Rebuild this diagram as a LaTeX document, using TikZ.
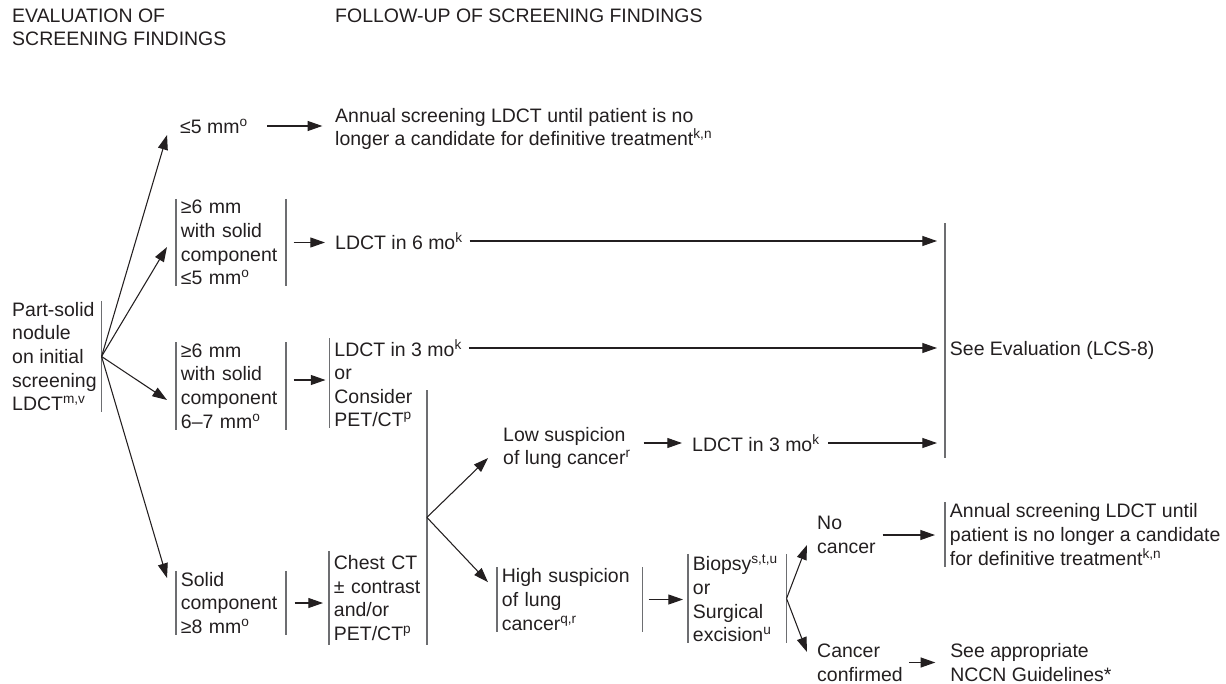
\documentclass[tikz,border=0pt]{standalone}
\usepackage{fontspec}
\setmainfont{Liberation Sans}
\usetikzlibrary{arrows.meta,calc}

\begin{document}
\begin{tikzpicture}[x=0.75pt,y=-0.75pt,font=\fontsize{14.6}{17.7}\selectfont,
  lcstext/.style={anchor=west,align=left,inner xsep=3.5pt,inner ysep=0.8pt,text=lcsink},
  lcsblock/.style={lcstext,text width=75pt},
  lcsrule/.style={draw=lcsgray,line width=1pt},
  lcsarr/.style={draw=lcsink,line width=0.8pt,-{Triangle[length=11pt,width=7.5pt]}}]
  \definecolor{lcsink}{HTML}{231F20}
  \definecolor{lcsgray}{HTML}{6D6E71}
  \path[use as bounding box] (0,0) rectangle (1226,684);

  % column heads
  \node[lcstext] (hdeval) at (7.3,27.5) {EVALUATION OF\\SCREENING FINDINGS};
  \node[lcstext] (hdfollow) at (330.3,16) {FOLLOW-UP OF SCREENING FINDINGS};

  % first split: size of the nodule and of its solid part
  \node[lcstext] (partsolid) at (7.3,356.5) {Part-solid\\nodule\\on initial\\screening\\LDCT\textsuperscript{m,v}};
  \node[lcstext] (smallnod) at (175.3,126) {≤5 mm\textsuperscript{o}};
  \node[lcsblock] (solidlow) at (176,242.5) {≥6 mm\\with solid\\component\\≤5 mm\textsuperscript{o}};
  \node[lcsblock] (solidmid) at (176,386) {≥6 mm\\with solid\\component\\6–7 mm\textsuperscript{o}};
  \node[lcsblock] (solidhigh) at (176,603) {Solid\\component\\≥8 mm\textsuperscript{o}};

  % follow-up column
  \node[lcstext] (annualtop) at (330.3,129) {Annual screening LDCT until patient is no\\longer a candidate for definitive treatment\textsuperscript{k,n}};
  \node[lcstext] (sixmo) at (330.3,241) {LDCT in 6 mo\textsuperscript{k}};
  \node[lcstext] (threemo) at (329.5,348) {LDCT in 3 mo\textsuperscript{k}};
  \node[lcstext] (considerpet) at (329.5,398) {or\\Consider\\PET/CT\textsuperscript{p}};
  \node[lcstext,text width=66pt,inner ysep=3pt] (chestct) at (329,598) {Chest CT\\± contrast\\and/or\\PET/CT\textsuperscript{p}};
  \node[lcstext] (seeeval) at (945,350) {See Evaluation (LCS-8)};

  % after chest CT and/or PET/CT
  \node[lcstext] (lowsusp) at (498.3,448) {Low suspicion\\of lung cancer\textsuperscript{r}};
  \node[lcstext] (lowct) at (687.3,443) {LDCT in 3 mo\textsuperscript{k}};
  \node[lcstext,text width=101.75pt] (highsusp) at (497,599.5) {High suspicion\\of lung\\cancer\textsuperscript{q,r}};
  \node[lcstext,text width=66.5pt] (biopsy) at (688,598.5) {Biopsy\textsuperscript{s,t,u}\\or\\Surgical\\excision\textsuperscript{u}};
  \node[lcstext] (nocancer) at (812.3,535) {No\\cancer};
  \node[lcstext] (annualbot) at (945,534.5) {Annual screening LDCT until\\patient is no longer a candidate\\for definitive treatment\textsuperscript{k,n}};
  \node[lcstext] (confirmed) at (812.3,662.5) {Cancer\\confirmed};
  \node[lcstext] (nccn) at (945.3,662.5) {See appropriate\\NCCN Guidelines*};

  % bracket rules
  \foreach \n in {solidlow,solidmid,solidhigh,highsusp,biopsy}{
    \draw[lcsrule] (\n.north west) -- (\n.south west);
    \draw[lcsrule] (\n.north east) -- (\n.south east);
  }
  \draw[lcsrule] (partsolid.north east) -- (partsolid.south east);
  \draw[lcsrule] (threemo.north west) -- (considerpet.south west);
  \draw[lcsrule] (chestct.north west) -- (chestct.south west);
  \coordinate (ctcorner) at (chestct.north east |- considerpet.center);
  \coordinate (ctbartop) at ([yshift=6pt]ctcorner);
  \draw[lcsrule] (ctbartop) -- (chestct.south east);
  \coordinate (ctfan) at ($(ctbartop)!0.5!(chestct.south east)$);
  \draw[lcsrule] ([yshift=95.25pt]seeeval.west) -- ([yshift=-81pt]seeeval.west);
  \draw[lcsrule] (annualbot.north west) -- (annualbot.south west);

  % fans
  \foreach \n/\dx/\dy in {smallnod/-6.2/-6.75,solidlow/-6.75/-3.4,
                          solidmid/-6.75/-10.5,solidhigh/-6.75/18.75}{
    \draw[lcsarr] (partsolid.east) -- ([xshift=\dx pt,yshift=\dy pt]\n.west);
  }
  \draw[lcsarr] (ctfan) -- ([xshift=-7.7pt,yshift=-7.5pt]lowsusp.west);
  \draw[lcsarr] (ctfan) -- ([xshift=-6.75pt,yshift=13pt]highsusp.west);
  \draw[lcsarr] (biopsy.east) -- ([xshift=-4pt,yshift=-7.5pt]nocancer.west);
  \draw[lcsarr] (biopsy.east) -- ([xshift=-4pt,yshift=7.9pt]confirmed.west);

  % straight arrows
  \coordinate (midout) at ([yshift=4.5pt]solidmid.east);
  \draw[lcsarr,shorten <=11pt,shorten >=6pt] (smallnod.east) -- (smallnod.east -| annualtop.west);
  \draw[lcsarr,shorten <=5.8pt,shorten >=4pt] (solidlow.east) -- (solidlow.east -| sixmo.west);
  \draw[lcsarr,shorten <=5.8pt,shorten >=3pt] (midout) -- (midout -| considerpet.west);
  \draw[lcsarr,shorten <=6.5pt,shorten >=4.5pt] (solidhigh.east) -- (solidhigh.east -| chestct.west);
  \draw[lcsarr,shorten <=1.5pt,shorten >=6pt] (sixmo.east) -- (sixmo.east -| seeeval.west);
  \draw[lcsarr,shorten <=1.5pt,shorten >=6pt] (threemo.east) -- (threemo.east -| seeeval.west);
  \draw[lcsarr,shorten <=6pt,shorten >=4pt] (lowsusp.east |- lowct.west) -- (lowct.west);
  \draw[lcsarr,shorten <=2.5pt,shorten >=6pt] (lowct.east) -- (lowct.east -| seeeval.west);
  \draw[lcsarr,shorten <=4.5pt,shorten >=3.75pt] (highsusp.east) -- (highsusp.east -| biopsy.west);
  \draw[lcsarr,shorten <=1.5pt,shorten >=7.5pt] (nocancer.east) -- (nocancer.east -| annualbot.west);
  \draw[lcsarr,shorten <=1pt,shorten >=7.5pt] (confirmed.east) -- (confirmed.east -| nccn.west);
\end{tikzpicture}
\end{document}
